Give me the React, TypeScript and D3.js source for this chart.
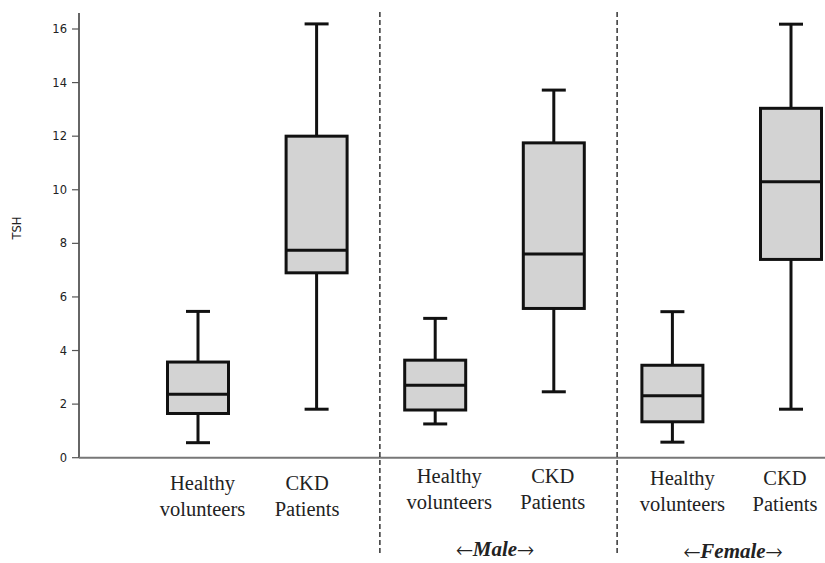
import React from "react";
import * as d3 from "d3";

const categories = ["Healthy volunteers", "CKD Patients", "Healthy volunteers", "CKD Patients", "Healthy volunteers", "CKD Patients"];
const groups = ["", "Male", "Female"];
const whiskerLow = [0.56, 1.81, 1.26, 2.46, 0.58, 1.81];
const q1 = [1.65, 6.9, 1.78, 5.57, 1.34, 7.4];
const median = [2.37, 7.74, 2.7, 7.6, 2.31, 10.3];
const q3 = [3.57, 12.0, 3.64, 11.75, 3.45, 13.04];
const whiskerHigh = [5.46, 16.19, 5.2, 13.72, 5.45, 16.18];
const yTicks = [0, 2, 4, 6, 8, 10, 12, 14, 16];

// layout-only tweaks (label placement)
const labelShift = [4.5, -9.5, 14, -1, 10, -6];
const labelBase = [490, 490, 483, 483, 485, 485];

const SERIF = '"Liberation Serif", "Times New Roman", serif';
const ARROW = '"FreeSerif", "DejaVu Serif", serif';
const SANS = '"DejaVu Sans", Verdana, sans-serif';

export default function App() {
  const W = 825, H = 563;
  const y = d3.scaleLinear().domain([0, 16]).range([457.7, 29]);
  const x = d3.scalePoint<number>().domain(d3.range(categories.length)).range([198, 791]);
  const step = x.step();
  const boxW = 61;
  const capW = 24;
  const axisX = 79;

  const dividers = [1, 3].map((i) => (x(i)! + step / 2) + 4);
  const groupCenters = [0, 495, 733];

  return (
    <svg width={W} height={H} style={{ position: "absolute", left: 0, top: 0, background: "#fff" }}>
      {/* y axis */}
      <line x1={axisX} x2={axisX} y1={13} y2={458} stroke="#666" strokeWidth={2} />
      <line x1={axisX} x2={W} y1={y(0)} y2={y(0)} stroke="#777" strokeWidth={2} />
      {yTicks.map((t) => (
        <g key={t}>
          <line x1={72} x2={axisX} y1={y(t)} y2={y(t)} stroke="#555" strokeWidth={1.2} />
          <text x={67} y={y(t)} dy="0.36em" textAnchor="end" style={{ fontFamily: SANS }} fontSize={11.5} fill="#222">
            {t}
          </text>
        </g>
      ))}
      <text transform={`translate(21,228) rotate(-90)`} textAnchor="middle" style={{ fontFamily: SANS }} fontSize={11.5} fill="#222">
        TSH
      </text>

      {/* dividers */}
      {dividers.map((dx, i) => (
        <line key={i} x1={dx} x2={dx} y1={12} y2={553} stroke="#000" strokeWidth={1.2} strokeDasharray="5,3" />
      ))}

      {/* boxes */}
      {categories.map((c, i) => {
        const cx = x(i)!;
        return (
          <g key={i}>
            <line x1={cx} x2={cx} y1={y(whiskerHigh[i])} y2={y(q3[i])} stroke="#111" strokeWidth={3} />
            <line x1={cx} x2={cx} y1={y(q1[i])} y2={y(whiskerLow[i])} stroke="#111" strokeWidth={3} />
            <line x1={cx - capW / 2} x2={cx + capW / 2} y1={y(whiskerHigh[i])} y2={y(whiskerHigh[i])} stroke="#111" strokeWidth={3} />
            <line x1={cx - capW / 2} x2={cx + capW / 2} y1={y(whiskerLow[i])} y2={y(whiskerLow[i])} stroke="#111" strokeWidth={3} />
            <rect x={cx - boxW / 2} y={y(q3[i])} width={boxW} height={y(q1[i]) - y(q3[i])} fill="#d3d3d3" stroke="#111" strokeWidth={3} />
            <line x1={cx - boxW / 2} x2={cx + boxW / 2} y1={y(median[i])} y2={y(median[i])} stroke="#111" strokeWidth={3} />
          </g>
        );
      })}

      {/* category labels */}
      {categories.map((c, i) => {
        const parts = c.split(" ");
        const cx = x(i)! + labelShift[i];
        return (
          <text key={i} textAnchor="middle" style={{ fontFamily: SERIF }} fontSize={20.5} fill="#222">
            <tspan x={cx} y={labelBase[i]}>{parts[0]}</tspan>
            <tspan x={cx} y={labelBase[i] + 26}>{parts[1]}</tspan>
          </text>
        );
      })}

      {/* group labels */}
      {groups.map((g, i) =>
        g ? (
          <text key={i} x={groupCenters[i]} y={i === 1 ? 556 : 558} textAnchor="middle" fontSize={21} fill="#222">
            <tspan style={{ fontFamily: ARROW }}>{"\u2190"}</tspan>
            <tspan style={{ fontFamily: SERIF }} fontStyle="italic" fontWeight="bold">{g}</tspan>
            <tspan style={{ fontFamily: ARROW }}>{"\u2192"}</tspan>
          </text>
        ) : null
      )}
    </svg>
  );
}
